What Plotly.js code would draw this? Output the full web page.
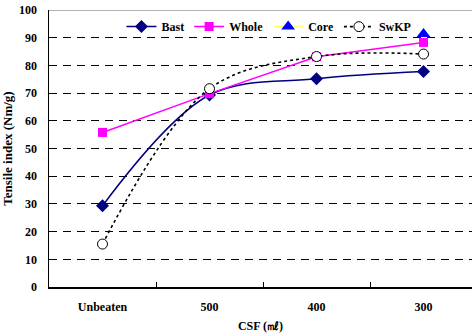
<!DOCTYPE html>
<html>
<head>
<meta charset="utf-8">
<script src="https://cdn.plot.ly/plotly-3.0.1.min.js"></script>
<style>html,body{margin:0;padding:0;background:#fff;}</style>
</head>
<body>
<div id="chart" style="width:472px;height:336px;"></div>
<script>
var categories = ["Unbeaten", "500", "400", "300"];
var bast = [29.3, 69.3, 75.2, 77.8];
var whole = [55.8, 69.8, 83.1, 88.3];
var coreCats = ["300"];
var core = [91.3];
var swkp = [15.5, 71.6, 83.2, 84.1];
var yTicks = [0, 10, 20, 30, 40, 50, 60, 70, 80, 90, 100];

var fam = "Liberation Serif";
var font = {family: fam, size: 12, color: "#000"};

var traces = [
  {x: categories, y: bast, name: "<b>Bast</b>", mode: "lines+markers", type: "scatter",
   line: {color: "#000080", width: 1.5, shape: "spline", smoothing: 1},
   marker: {symbol: "diamond", size: 10, color: "#000080"}},
  {x: categories, y: whole, name: "<b>Whole</b>", mode: "lines+markers", type: "scatter",
   line: {color: "#FF00FF", width: 1.5},
   marker: {symbol: "square", size: 9, color: "#FF00FF"}},
  {x: coreCats, y: core, name: "<b>Core</b>", mode: "lines+markers", type: "scatter",
   line: {color: "#FFFF66", width: 1.5},
   marker: {symbol: "triangle-up", size: 12, color: "#0000FF"}},
  {x: categories, y: swkp, name: "<b>SwKP</b>", mode: "lines+markers", type: "scatter",
   line: {color: "#000", width: 1.6, dash: "dot", shape: "spline", smoothing: 1},
   marker: {symbol: "circle", size: 10, color: "#fff", line: {color: "#000", width: 1}}}
];

var layout = {
  width: 472, height: 336,
  margin: {l: 49, r: 0, t: 10, b: 49},
  paper_bgcolor: "#fff", plot_bgcolor: "#fff",
  font: font,
  showlegend: true,
  legend: {orientation: "h", x: 0.52, xanchor: "center", y: 0.94, yanchor: "middle",
           bgcolor: "rgba(0,0,0,0)", font: {family: fam, size: 12, color: "#000"},
           itemwidth: 30, tracegroupgap: 0},
  xaxis: {
    type: "category", categoryarray: categories, range: [-0.5, 3.453],
    showgrid: false, zeroline: false,
    showline: true, linecolor: "#000", linewidth: 1.5,
    ticks: "inside", tickson: "boundaries", ticklen: 5, tickcolor: "#000", tickwidth: 1,
    tickvals: categories, ticktext: categories.map(function(c){return "<b>"+c+"</b>";}),
    tickfont: {family: fam, size: 12, color: "#000"},
    ticklabelstandoff: 8,
    title: {text: "<b>CSF (㎖)</b>", font: {family: fam, size: 12, color: "#000"}, standoff: 8},
    fixedrange: true
  },
  yaxis: {
    range: [0, 100], tickvals: yTicks, ticktext: yTicks.map(function(v){return "<b>"+v+"</b>";}),
    showgrid: true, gridcolor: "#000", gridwidth: 1, griddash: "8px,6px",
    zeroline: false, showline: true, linecolor: "#000", linewidth: 1.5,
    ticks: "", ticklabelstandoff: 8,
    tickfont: {family: fam, size: 12, color: "#000"},
    title: {text: "<b>Tensile index (Nm/g)</b>", font: {family: fam, size: 13, color: "#000"}, standoff: 8},
    fixedrange: true
  },
  shapes: [
    {type: "line", xref: "paper", yref: "y", x0: 0, x1: 1, y0: 100, y1: 100,
     line: {color: "#999", width: 1.5}}
  ]
};

Plotly.newPlot("chart", traces, layout, {displayModeBar: false, staticPlot: true});
</script>
</body>
</html>
